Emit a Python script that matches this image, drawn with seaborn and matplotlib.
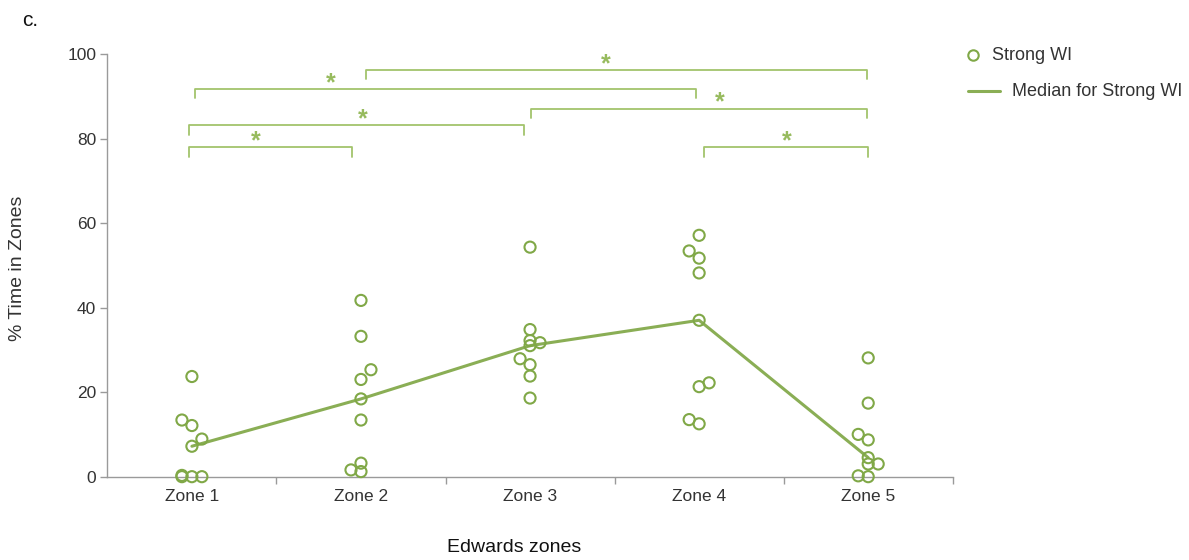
import matplotlib
matplotlib.use("Agg")
import matplotlib.pyplot as plt
from matplotlib.lines import Line2D
import numpy as np
import pandas as pd
import seaborn as sns

# ---- data -------------------------------------------------------------
zones = ["Zone 1", "Zone 2", "Zone 3", "Zone 4", "Zone 5"]

zone1 = [23.7, 13.4, 12.1, 8.9, 7.2, 0.3, 0.0, 0.0, 0.0]
zone2 = [41.7, 33.2, 25.3, 23.0, 18.4, 13.4, 3.2, 1.6, 1.2]
zone3 = [54.3, 34.8, 32.2, 31.0, 31.7, 27.9, 26.5, 23.8, 18.6]
zone4 = [57.1, 53.4, 51.7, 48.2, 37.0, 22.2, 21.3, 13.5, 12.5]
zone5 = [28.1, 17.4, 10.0, 8.7, 4.5, 3.0, 3.0, 0.2, 0.0]

# horizontal slot of each point inside its zone (-1 left, 0 centre, 1 right)
slot1 = [0, -1, 0, 1, 0, -1, -1, 0, 1]
slot2 = [0, 0, 1, 0, 0, 0, 0, -1, 0]
slot3 = [0, 0, 0, 0, 1, -1, 0, 0, 0]
slot4 = [0, -1, 0, 0, 0, 1, 0, -1, 0]
slot5 = [0, 0, -1, 0, 0, 0, 1, -1, 0]

# pairwise significance brackets: (zone a, zone b, bracket height)
sig_a = [0, 1, 0, 2, 0, 3]
sig_b = [3, 4, 2, 4, 1, 4]
sig_h = [91.8, 96.2, 83.1, 87.1, 77.9, 77.9]
star_x = [0.82, 2.45, 1.01, 3.12, 0.38, 3.52]
# small horizontal insets of the bracket ends
end_a = [0.017, 0.03, -0.018, 0.004, -0.02, 0.03]
end_b = [-0.02, -0.005, -0.037, -0.01, -0.054, -0.003]

values = [zone1, zone2, zone3, zone4, zone5]
slots = [slot1, slot2, slot3, slot4, slot5]

rows = []
for i, (vals, sl) in enumerate(zip(values, slots)):
    for v, s in zip(vals, sl):
        rows.append({"zone": i, "slot": s, "pct": v})
df = pd.DataFrame(rows)
df["xpos"] = df["zone"] + df["slot"] * 0.059

# ---- style ------------------------------------------------------------
sns.set_theme(style="white")
plt.rcParams["font.family"] = ["Liberation Sans", "DejaVu Sans"]

GREEN = "#80a847"
LINE_GREEN = "#8aae55"
BRACKET = "#a3c46c"
STAR = "#97bb5e"
SPINE = "#9a9a9a"
TEXT = "#333333"

fig = plt.figure(figsize=(11.89, 5.60), dpi=100)
ax = fig.add_axes([0.0903, 0.1488, 0.7110, 0.7548])

# median line computed from the raw points
sns.lineplot(data=df, x="zone", y="pct", estimator="median", errorbar=None,
             color=LINE_GREEN, linewidth=2.2, ax=ax, zorder=2)

# individual observations as open circles
sns.scatterplot(data=df, x="xpos", y="pct", marker="o", s=64,
                facecolors="none", edgecolor=GREEN, linewidth=1.5,
                ax=ax, zorder=3, clip_on=False)

# significance brackets
drop = 2.2
for a, b, h, sx, ea, eb in zip(sig_a, sig_b, sig_h, star_x, end_a, end_b):
    xa = a + ea
    xb = b + eb
    ax.plot([xa, xa, xb, xb], [h - drop, h, h, h - drop], color=BRACKET,
            linewidth=1.3, clip_on=False, zorder=1)
    ax.text(sx, h - 0.3, "*", color=STAR, fontsize=18, fontweight="bold",
            ha="center", va="baseline", clip_on=False)

# axes
ax.set_xlim(-0.5, 4.5)
ax.set_ylim(0, 100)
ax.set_yticks([0, 20, 40, 60, 80, 100])
ax.set_xticks(range(len(zones)))
ax.set_xticklabels(zones)
ax.set_xticks([0.5, 1.5, 2.5, 3.5, 4.5], minor=True)
ax.tick_params(axis="x", which="major", length=0, pad=9, labelsize=12.5,
               labelcolor=TEXT)
ax.tick_params(axis="x", which="minor", length=5, width=1.0, color=SPINE,
               direction="out", bottom=True)
ax.tick_params(axis="y", which="major", length=5, width=1.0, color=SPINE,
               direction="out", left=True, pad=3, labelsize=12.5,
               labelcolor=TEXT)
ax.set_xlabel("")
ax.set_ylabel("")
for side in ["top", "right"]:
    ax.spines[side].set_visible(False)
for side in ["left", "bottom"]:
    ax.spines[side].set_color(SPINE)
    ax.spines[side].set_linewidth(1.0)

# titles and labels
fig.text(22 / 1189, 1 - 20 / 560, "c.", fontsize=15, color="#111111",
         ha="left", va="center")
fig.text(18 / 1189, 1 - 268 / 560, "% Time in Zones", rotation=90,
         fontsize=14, color=TEXT, ha="center", va="center")
fig.text(514 / 1189, 1 - 547 / 560, "Edwards zones", fontsize=14,
         color="#111111", ha="center", va="center")

# legend
fig.add_artist(Line2D([973 / 1189], [1 - 55 / 560], marker="o",
                      markersize=7.5, markerfacecolor="none",
                      markeredgecolor=GREEN, markeredgewidth=1.5,
                      linestyle="none"))
fig.text(992 / 1189, 1 - 56 / 560, "Strong WI", fontsize=13, color=TEXT,
         ha="left", va="center")
fig.add_artist(Line2D([968 / 1189, 1000 / 1189], [1 - 91 / 560, 1 - 91 / 560],
                      color=LINE_GREEN, linewidth=2.2))
fig.text(1012 / 1189, 1 - 91.5 / 560, "Median for Strong WI", fontsize=13,
         color=TEXT, ha="left", va="center")

fig.savefig("out.png", dpi=100, facecolor="white")
